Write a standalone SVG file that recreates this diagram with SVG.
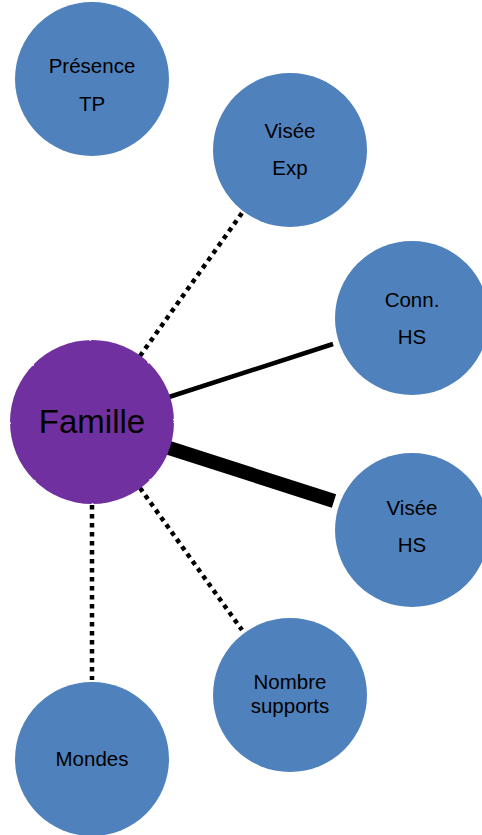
<svg xmlns="http://www.w3.org/2000/svg" width="482" height="835" viewBox="0 0 482 835">
<style>
.node{fill:#4F81BD}
.center{fill:#7030A0}
.lbl{font-family:"Liberation Sans","Noto Sans",sans-serif;font-size:20.5px;fill:#000;text-anchor:middle}
.big{font-family:"Liberation Sans","Noto Sans",sans-serif;font-size:33px;fill:#000;text-anchor:middle}
.dot{stroke:#000;stroke-width:4.5;stroke-dasharray:4.5 4.5;fill:none}
.solid{stroke:#000;fill:none}
</style>
<rect width="482" height="835" fill="#fff"/>
<g id="connectors">
<line class="dot" x1="140" y1="356" x2="242" y2="213"/>
<line class="solid" stroke-width="4.5" x1="169" y1="397" x2="333" y2="344"/>
<line class="solid" stroke-width="14" x1="166" y1="447" x2="334" y2="501"/>
<line class="dot" x1="140" y1="488" x2="242" y2="630"/>
<line class="dot" x1="92" y1="505" x2="92" y2="680"/>
</g>
<g id="presence">
<circle class="node" cx="92" cy="79" r="77"/>
<text class="lbl" x="92" y="73">Présence</text>
<text class="lbl" x="92" y="111">TP</text>
</g>
<g id="visee-exp">
<circle class="node" cx="290" cy="150" r="77"/>
<text class="lbl" x="290" y="138">Visée</text>
<text class="lbl" x="290" y="175">Exp</text>
</g>
<g id="conn-hs">
<circle class="node" cx="412" cy="318" r="77"/>
<text class="lbl" x="412" y="307">Conn.</text>
<text class="lbl" x="412" y="344">HS</text>
</g>
<g id="visee-hs">
<circle class="node" cx="412" cy="530" r="77"/>
<text class="lbl" x="412" y="515">Visée</text>
<text class="lbl" x="412" y="552">HS</text>
</g>
<g id="nombre-supports">
<circle class="node" cx="290" cy="695" r="77"/>
<text class="lbl" x="290" y="689">Nombre</text>
<text class="lbl" x="290" y="713">supports</text>
</g>
<g id="mondes">
<circle class="node" cx="92" cy="759" r="77"/>
<text class="lbl" x="92" y="766">Mondes</text>
</g>
<g id="famille">
<circle class="center" cx="92" cy="422" r="82"/>
<circle cx="92" cy="422" r="82" fill="none" stroke="#fff" stroke-width="1.5" stroke-dasharray="2 62" stroke-dashoffset="1"/>
<text class="big" x="92" y="433">Famille</text>
</g>
</svg>
